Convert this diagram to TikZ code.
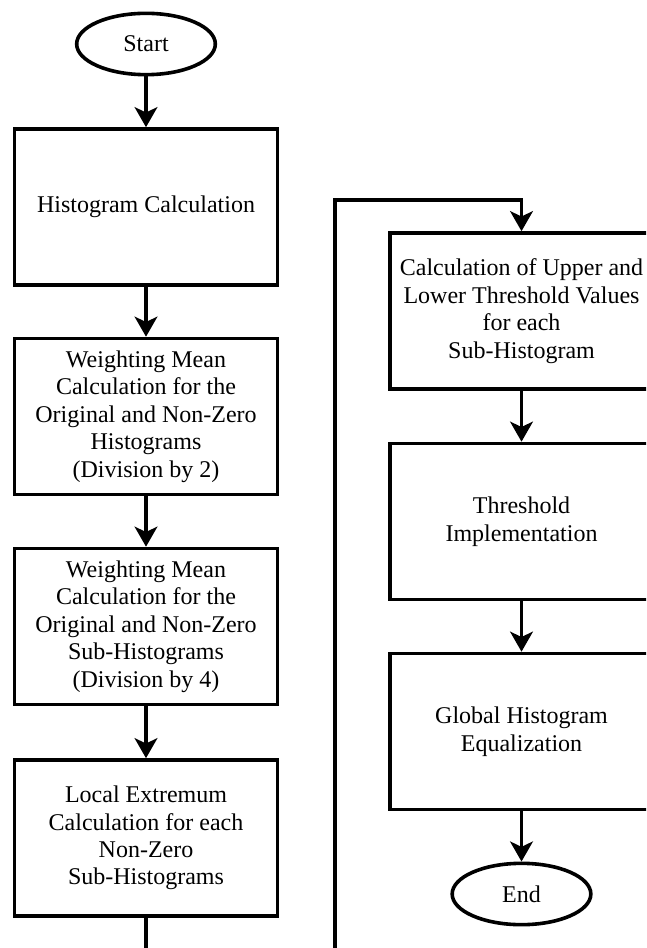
\documentclass[tikz,border=0pt]{standalone}
\usepackage{fontspec}
\setmainfont{Liberation Serif}
\usetikzlibrary{shapes.geometric,arrows.meta}

\tikzset{
  procbox/.style={draw, line width=2.7pt, rectangle, minimum width=197pt, minimum height=117pt,
    align=center, inner sep=2pt, font=\fontsize{18}{20.6}\selectfont},
  termnode/.style={draw, line width=2.7pt, ellipse, minimum width=104pt, minimum height=46pt,
    inner sep=1pt, font=\fontsize{18}{20.6}\selectfont},
  flow/.style={line width=2.7pt, -{Stealth[length=15pt,width=17pt,inset=4pt]}}
}

\begin{document}
\begin{tikzpicture}[x=0.75pt,y=0.75pt,yscale=-1,xscale=1]
%set diagram to 646 x 948
\clip (0,0) rectangle (646,948);

% left column
\node[termnode] (start) at (146,44) {Start};
\node[procbox] (hist) at (146,207) {Histogram Calculation};
\node[procbox] (wmean1) at (146,416.5) {Weighting Mean\\Calculation for the\\Original and Non-Zero\\Histograms\\(Division by 2)};
\node[procbox] (wmean2) at (146,626.5) {Weighting Mean\\Calculation for the\\Original and Non-Zero\\Sub-Histograms\\(Division by 4)};
\node[procbox] (locext) at (146,838) {Local Extremum\\Calculation for each\\Non-Zero\\Sub-Histograms};

% right column
\node[procbox] (thrcalc) at (521.5,311) {Calculation of Upper and\\Lower Threshold Values\\for each\\Sub-Histogram};
\node[procbox] (thrimpl) at (521.5,521.5) {Threshold\\Implementation};
\node[procbox] (globeq) at (521.5,731.5) {Global Histogram\\Equalization};
\node[termnode] (finish) at (521.5,894) {End};

% loop corners
\coordinate (loopa) at (146,990);
\coordinate (loopb) at (335,990);
\coordinate (loopc) at (335,200);

% connectors
\draw[flow] (start) -- (hist);
\draw[flow] (hist) -- (wmean1);
\draw[flow] (wmean1) -- (wmean2);
\draw[flow] (wmean2) -- (locext);
\draw[flow] (locext.south) -- (loopa) -- (loopb) -- (loopc) -| (thrcalc.north);
\draw[flow] (thrcalc) -- (thrimpl);
\draw[flow] (thrimpl) -- (globeq);
\draw[flow] (globeq) -- (finish);

\end{tikzpicture}
\end{document}
